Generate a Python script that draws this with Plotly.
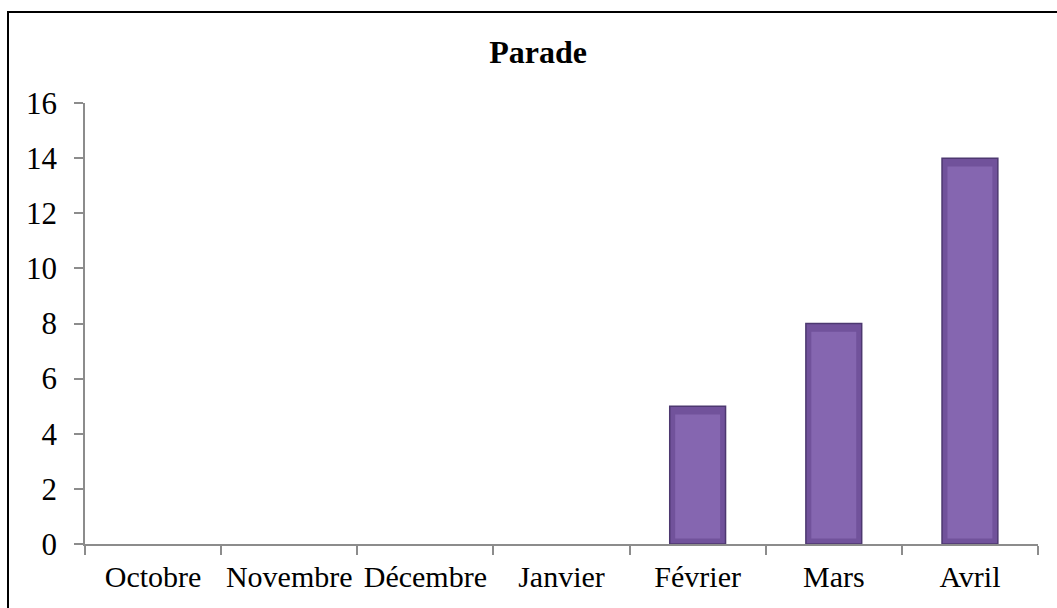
import plotly.graph_objects as go

# Monthly counts for "Parade"
months = ["Octobre", "Novembre", "Décembre", "Janvier", "Février", "Mars", "Avril"]
counts = [0, 0, 0, 0, 5, 8, 14]
y_ticks = [0, 2, 4, 6, 8, 10, 12, 14, 16]

FONT = "Liberation Serif, Times New Roman, serif"

fig = go.Figure()

# main bar body with a dark bevel edge (no outline for empty months)
fig.add_trace(go.Bar(
    x=months, y=counts, width=0.41,
    marker=dict(color="#71529b",
                line=dict(color="#4d3870", width=[1.5 if v else 0 for v in counts])),
    hoverinfo="x+y", showlegend=False,
))
# lighter inner face to suggest the bevel
fig.add_trace(go.Bar(
    x=months, y=[max(v - 0.5, 0) for v in counts], base=[0.2 if v else 0 for v in counts],
    width=0.33,
    marker=dict(color="#8566b0", line=dict(width=0)),
    hoverinfo="skip", showlegend=False,
))

fig.update_layout(
    width=1057, height=608,
    margin=dict(l=85, r=19, t=103, b=64),
    paper_bgcolor="white", plot_bgcolor="white",
    barmode="overlay",
    font=dict(family=FONT, size=30, color="black"),
    title=dict(text="<b>Parade</b>", x=0.509, xanchor="center", y=0.915, yanchor="middle",
               font=dict(family=FONT, size=32, color="black")),
    xaxis=dict(
        showgrid=False, showline=True, linecolor="#8c8c8c", linewidth=1.5,
        ticks="outside", ticklen=9, tickcolor="#8c8c8c", tickwidth=1.5,
        tickson="boundaries", ticklabelstandoff=5, tickangle=0,
        tickfont=dict(family=FONT, size=30, color="black"),
    ),
    yaxis=dict(
        range=[0, 16], tickvals=y_ticks, showgrid=False, zeroline=False,
        showline=True, linecolor="#8c8c8c", linewidth=1.5,
        ticks="outside", ticklen=9, tickcolor="#8c8c8c", tickwidth=1.5,
        ticklabelstandoff=11,
        tickfont=dict(family=FONT, size=31, color="black"),
    ),
    shapes=[dict(
        type="rect", xref="paper", yref="paper",
        x0=(8 - 85) / 953, x1=1.2, y0=-0.5, y1=1 + (103 - 12) / 441,
        line=dict(color="black", width=2), fillcolor="rgba(0,0,0,0)", layer="below",
    )],
)

fig.write_html("out.html")
